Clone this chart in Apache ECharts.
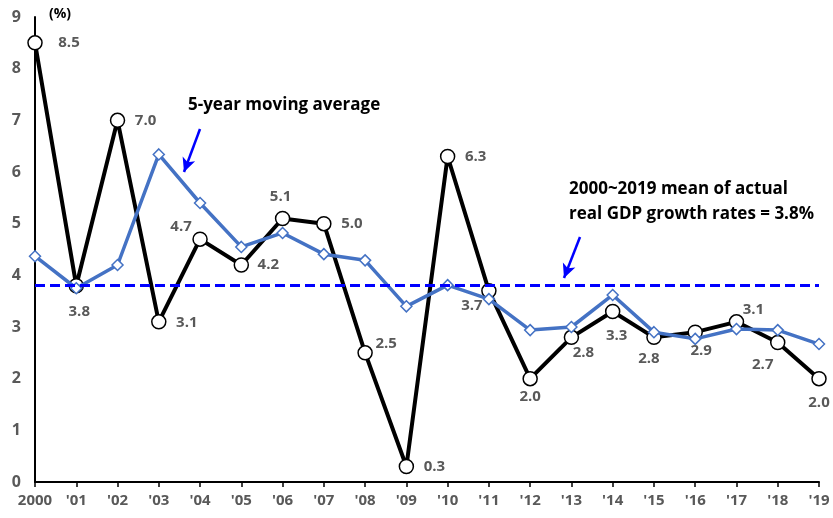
<!DOCTYPE html>
<html>
<head>
<meta charset="utf-8">
<script src="https://cdn.jsdelivr.net/npm/echarts@6.0.0/dist/echarts.min.js"></script>
<style>
  html, body { margin: 0; padding: 0; background: #fff; }
  #chart { width: 833px; height: 518px; }
</style>
</head>
<body>
<div id="chart"></div>
<script>
const years = ['2000', "'01", "'02", "'03", "'04", "'05", "'06", "'07", "'08", "'09",
  "'10", "'11", "'12", "'13", "'14", "'15", "'16", "'17", "'18", "'19"];

// actual real GDP growth rates (%)
const actualGrowth = [8.5, 3.8, 7.0, 3.1, 4.7, 4.2, 5.1, 5.0, 2.5, 0.3,
  6.3, 3.7, 2.0, 2.8, 3.3, 2.8, 2.9, 3.1, 2.7, 2.0];

// 5-year moving average (%)
const movingAverage = [4.37, 3.75, 4.2, 6.34, 5.4, 4.55, 4.82, 4.41, 4.29, 3.4,
  3.81, 3.54, 2.94, 3.0, 3.62, 2.9, 2.77, 2.96, 2.94, 2.67];

const meanGrowth = 3.8;

// where each value label sits, relative to its point (pixels)
const labelOffsets = [[34, 0], [3, 26], [28, 0], [28, 1], [-19, -12], [27, 0], [-2, -22],
  [28, 0], [21, -9], [28, 0], [28, 0], [-17, 15], [0, 18], [12, 15], [4, 24], [-5, 21],
  [6, 19], [17, -12], [-15, 22], [0, 24]];

const font = '"Open Sans", sans-serif';
const gray = '#595959';

const chart = echarts.init(document.getElementById('chart'));

const actualData = actualGrowth.map((v, i) => ({
  value: v,
  label: { offset: labelOffsets[i] }
}));

chart.setOption({
  animation: false,
  grid: { left: 35, right: 14, top: 17, bottom: 36 },
  xAxis: {
    type: 'category',
    data: years,
    boundaryGap: false,
    axisLine: { lineStyle: { color: '#000', width: 2 } },
    axisTick: { show: true, interval: 0, length: 5, lineStyle: { color: '#000', width: 1.5 } },
    axisLabel: { interval: 0, color: gray, fontWeight: 'bold', fontSize: 15, fontFamily: font, margin: 11 },
    splitLine: { show: false }
  },
  yAxis: {
    type: 'value',
    min: 0,
    max: 9,
    interval: 1,
    axisLine: { show: true, lineStyle: { color: '#000', width: 2 } },
    axisTick: { show: false },
    axisLabel: { color: gray, fontWeight: 'bold', fontSize: 16, fontFamily: font, margin: 14 },
    splitLine: { show: false }
  },
  graphic: [
    { type: 'text', left: 49, top: 7,
      style: { text: '(%)', font: 'bold 14px ' + font, fill: '#000' } },
    { type: 'text', left: 188, top: 97,
      style: { text: '5-year moving average', font: 'bold 17px ' + font, fill: '#000' } },
    { type: 'text', left: 569, top: 177,
      style: { text: '2000~2019 mean of actual\nreal GDP growth rates = 3.8%', font: 'bold 17px ' + font,
        fill: '#000', lineHeight: 25 } }
  ],
  series: [
    {
      name: 'Actual',
      type: 'line',
      data: actualData,
      symbol: 'circle',
      symbolSize: 14,
      lineStyle: { color: '#000', width: 4 },
      itemStyle: { color: '#fff', borderColor: '#000', borderWidth: 1.5 },
      label: {
        show: true,
        position: 'inside',
        formatter: p => p.value.toFixed(1),
        color: gray,
        fontWeight: 'bold',
        fontSize: 15,
        fontFamily: font
      },
      markLine: {
        silent: true,
        symbol: 'none',
        label: { show: false },
        lineStyle: { color: '#0000ff', width: 3, type: [10, 5] },
        data: [{ yAxis: meanGrowth }]
      },
      z: 2
    },
    {
      name: '5-year moving average',
      type: 'line',
      data: movingAverage,
      symbol: 'diamond',
      symbolSize: 11,
      lineStyle: { color: '#4472c4', width: 3.5 },
      itemStyle: { color: '#fff', borderColor: '#4472c4', borderWidth: 1.5 },
      markLine: {
        silent: true,
        symbolSize: [10, 14],
        label: { show: false },
        lineStyle: { color: '#0000ff', width: 2.5, type: 'solid' },
        data: [
          [{ x: 200, y: 129, symbol: 'none' }, { x: 184, y: 172, symbol: 'arrow' }],
          [{ x: 580, y: 237, symbol: 'none' }, { x: 564, y: 278, symbol: 'arrow' }]
        ]
      },
      z: 3
    }
  ]
});
</script>
</body>
</html>
